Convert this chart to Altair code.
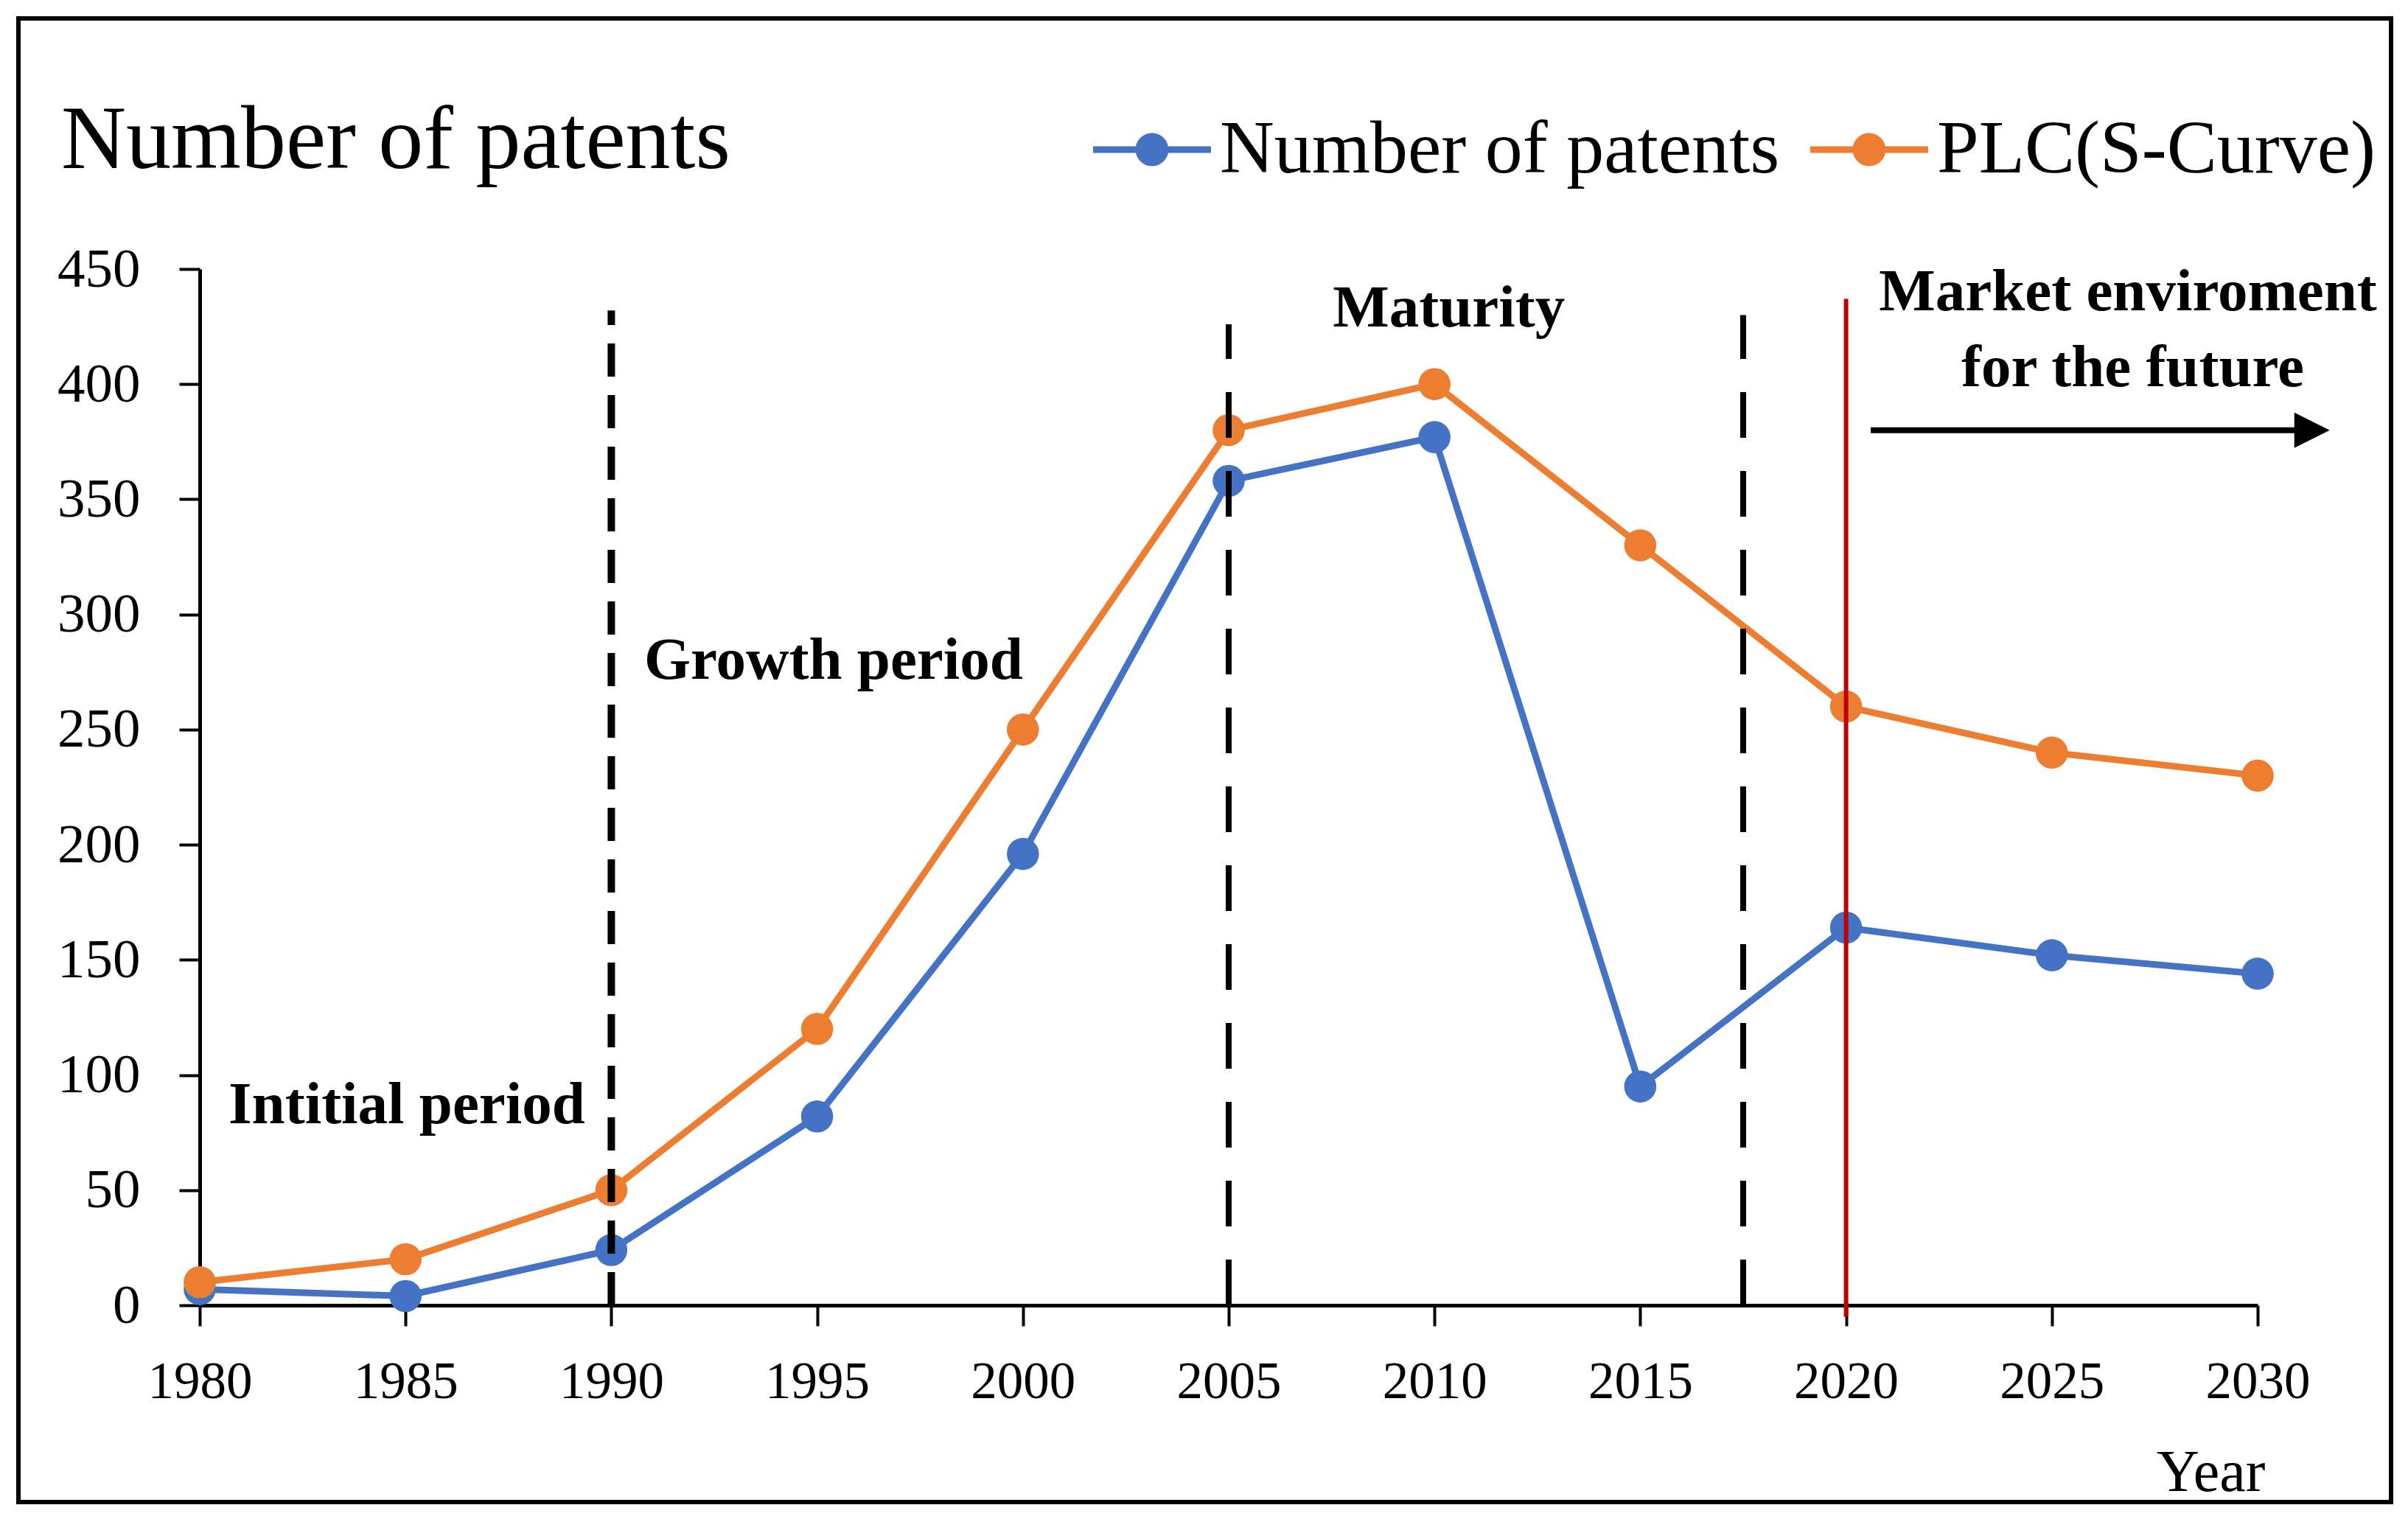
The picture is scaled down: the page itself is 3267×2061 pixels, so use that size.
import altair as alt
import pandas as pd

# ---------------- data ----------------
years = [1980, 1985, 1990, 1995, 2000, 2005, 2010, 2015, 2020, 2025, 2030]
patents = [7, 4, 24, 82, 196, 358, 377, 95, 164, 152, 144]
plc = [10, 20, 50, 120, 250, 380, 400, 330, 260, 240, 230]
series_names = ["Number of patents", "PLC(S-Curve)"]
series_colors = ["#4472C4", "#ED7D31"]
y_ticks = [0, 50, 100, 150, 200, 250, 300, 350, 400, 450]
x_ticks = years

phase_years = [1990, 2005, 2017.5]
phase_tops = [432, 426, 430]
future_year = [2020]
future_top = [437]
future_bottom = [-5]

ann_text = ["Intitial period", "Growth period", "Maturity", "Market enviroment", "for the future"]
ann_x = [1980.7, 1990.8, 2010.35, 2020.8, 2022.8]
ann_y = [79, 272, 425, 432, 399]
ann_align = ["left", "left", "center", "left", "left"]

arrow_start = [2020.6]
arrow_line_end = [2031.3]
arrow_tip = [2031.75]
arrow_level = [380]

chart_title = "Number of patents"
x_title = "Year"

FONT = "Liberation Serif"

# ---------------- tables ----------------
series_df = pd.DataFrame({
    "year": years * 2,
    "value": patents + plc,
    "series": [series_names[0]] * len(years) + [series_names[1]] * len(years),
    "hex": [series_colors[0]] * len(years) + [series_colors[1]] * len(years),
})
phase_df = pd.DataFrame({"year": phase_years, "value": [0] * len(phase_years), "top": phase_tops})
future_df = pd.DataFrame({"year": future_year, "value": future_bottom, "top": future_top})
ann_df = pd.DataFrame({"year": ann_x, "value": ann_y, "label": ann_text, "align": ann_align})
arrow_df = pd.DataFrame({"year": arrow_start, "year2": arrow_line_end, "tip": arrow_tip, "value": arrow_level})
title_df = pd.DataFrame({"label": [chart_title]})

xscale = alt.Scale(domain=[1980, 2030], nice=False, zero=False)
yscale = alt.Scale(domain=[0, 450], nice=False)

xaxis = alt.Axis(values=x_ticks, format="d", title=x_title, grid=False,
                 labelFont=FONT, labelFontSize=71, labelColor="black", labelPadding=41,
                 tickSize=28, tickWidth=4, tickColor="black",
                 domainColor="black", domainWidth=5,
                 titleFont=FONT, titleFontSize=80, titleFontWeight="normal", titleColor="black",
                 titleX=2802, titleY=251, titleAlign="right", titleBaseline="alphabetic",
                 labelFlush=False, labelOverlap=False)
yaxis = alt.Axis(values=y_ticks, title=None, grid=False,
                 labelFont=FONT, labelFontSize=75, labelColor="black", labelPadding=53,
                 tickSize=28, tickWidth=4, tickColor="black",
                 domainColor="black", domainWidth=5, labelOverlap=False)

X = lambda f="year": alt.X(f + ":Q", scale=xscale, axis=xaxis)
Y = lambda f="value": alt.Y(f + ":Q", scale=yscale, axis=yaxis)

color_scale = alt.Scale(domain=series_names, range=series_colors)

legend_symbol = ("M-1,-0.055L1,-0.055L1,0.055L-1,0.055Z "
                 "M0.28,0A0.28,0.28,0,1,1,-0.28,0A0.28,0.28,0,1,1,0.28,0Z")

lines = alt.Chart(series_df).mark_line(strokeWidth=9).encode(
    x=X(), y=Y(),
    stroke=alt.Stroke("hex:N", scale=None),
    detail="series:N",
)

points = alt.Chart(series_df).mark_circle(size=1900, opacity=1, strokeWidth=0).encode(
    x=X(), y=Y(),
    fill=alt.Fill("series:N", scale=color_scale, legend=alt.Legend(
        orient="none", legendX=1212, legendY=-242, direction="horizontal", title=None,
        symbolType=legend_symbol, symbolSize=25600, symbolStrokeWidth=0, symbolOpacity=1,
        labelFont=FONT, labelFontSize=102, labelColor="black", labelOffset=12,
        labelLimit=2000, columnPadding=41, padding=0)),
)

phase1 = alt.Chart(phase_df.iloc[:1]).mark_rule(color="black", strokeWidth=10, strokeDash=[45, 25]).encode(
    x=X(), y=Y(), y2="top:Q")
phase2 = alt.Chart(phase_df.iloc[1:]).mark_rule(color="black", strokeWidth=8, strokeDash=[62, 45]).encode(
    x=X(), y=Y(), y2="top:Q")
future = alt.Chart(future_df).mark_rule(color="#C00000", strokeWidth=6).encode(
    x=X(), y=Y(), y2="top:Q")

ann_left = alt.Chart(ann_df[ann_df["align"] == "left"]).mark_text(
    font=FONT, fontSize=81, fontWeight="bold", color="black", baseline="alphabetic", align="left"
).encode(x=X(), y=Y(), text="label:N")
ann_center = alt.Chart(ann_df[ann_df["align"] == "center"]).mark_text(
    font=FONT, fontSize=81, fontWeight="bold", color="black", baseline="alphabetic", align="center"
).encode(x=X(), y=Y(), text="label:N")

arrow_line = alt.Chart(arrow_df).mark_rule(color="black", strokeWidth=8).encode(
    x=X(), x2="year2:Q", y=Y())
arrow_head = alt.Chart(arrow_df).mark_point(shape="M0,0L-1,-0.5L-1,0.5Z", size=9216, filled=True,
                                            color="black", opacity=1, strokeWidth=0).encode(
    x=X("tip"), y=Y())

frame = alt.Chart(title_df).mark_rect(fillOpacity=0, stroke="black", strokeWidth=6).encode(
    x=alt.value(-246), x2=alt.value(2973), y=alt.value(-340), y2=alt.value(1673))

title_mark = alt.Chart(title_df).mark_text(font=FONT, fontSize=122, color="black",
                                           align="left", baseline="alphabetic").encode(
    x=alt.value(-188), y=alt.value(-137), text="label:N")

chart = alt.layer(
    lines, points, phase1, phase2, future, ann_left, ann_center, arrow_line, arrow_head, frame, title_mark
).properties(
    width=2792, height=1406,
    padding={"left": 263, "top": 357, "right": 190, "bottom": 275},
    autosize=alt.AutoSizeParams(type="none"),
    background="white",
).configure_view(stroke=None)

chart.save("out.html", embed_options={"renderer": "svg", "actions": False})
